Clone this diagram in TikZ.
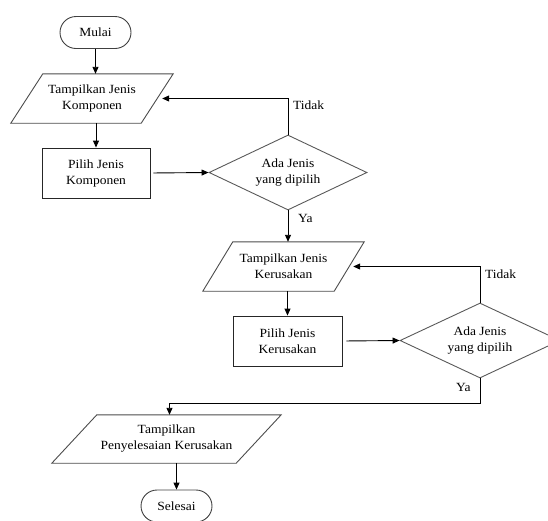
\documentclass[tikz,border=0pt]{standalone}
\usepackage{fontspec}
\setmainfont[FakeStretch=1.08]{Liberation Serif}
\usetikzlibrary{shapes.geometric,shapes.misc,arrows.meta,calc}
\begin{document}
\begin{tikzpicture}[x=1pt,y=-1pt,
  every node/.style={font=\fontsize{12.5}{16}\selectfont, text=black},
  term/.style={rounded rectangle, draw=black!75, line width=0.9pt, minimum width=71pt, minimum height=32pt, inner sep=0pt},
  io/.style={rectangle, inner sep=0pt, align=center},
  procbox/.style={rectangle, draw=black!85, line width=0.9pt, align=center, inner sep=0pt},
  decision/.style={diamond, draw=black!65, line width=0.9pt, aspect=2.1, inner sep=0pt, align=center},
  conn/.style={line width=0.9pt, -{Triangle[length=7pt,width=6pt]}},
  plain/.style={line width=0.9pt},
  lbl/.style={anchor=west, inner sep=0pt}
]
\useasboundingbox (0,0) rectangle (548,520);

% nodes
\node[term] (mulai) at (95.5,32.5) {Mulai};
\node[io, minimum width=130pt, minimum height=49pt] (p1) at (92,98.5) {Tampilkan Jenis\\Komponen};
\node[procbox, minimum width=108pt, minimum height=50pt] (r1) at (96,173) {Pilih Jenis\\Komponen};
\node[decision, minimum width=158pt, minimum height=75pt] (d1) at (288,172.5) {Ada Jenis\\yang dipilih};
\node[io, minimum width=131pt, minimum height=49pt] (p2) at (283.5,266.5) {Tampilkan Jenis\\Kerusakan};
\node[procbox, minimum width=109pt, minimum height=50pt] (r2) at (287.5,341) {Pilih Jenis\\Kerusakan};
\node[decision, minimum width=160pt, minimum height=75pt] (d2) at (480,340.5) {Ada Jenis\\yang dipilih};
\node[io, minimum width=184pt, minimum height=48pt] (p3) at (166.5,439) {Tampilkan\\Penyelesaian Kerusakan};
\node[term] (selesai) at (176.5,506) {Selesai};

% parallelogram outlines
\draw[draw=black!70, line width=0.9pt] ([xshift=16pt]p1.north west) -- ([xshift=16pt]p1.north east) -- ([xshift=-16pt]p1.south east) -- ([xshift=-16pt]p1.south west) -- cycle;
\draw[draw=black!70, line width=0.9pt] ([xshift=15pt]p2.north west) -- ([xshift=15pt]p2.north east) -- ([xshift=-15pt]p2.south east) -- ([xshift=-15pt]p2.south west) -- cycle;
\draw[draw=black!70, line width=0.9pt] ([xshift=22.5pt]p3.north west) -- ([xshift=22.5pt]p3.north east) -- ([xshift=-22.5pt]p3.south east) -- ([xshift=-22.5pt]p3.south west) -- cycle;

% connectors
\draw[conn] (mulai.south) -- (mulai.south |- p1.north);
\draw[conn] (r1.north |- p1.south) -- (r1.north);
\draw[conn, shorten <=3pt] (r1.east) -- (d1.west);
\draw[conn, shorten >=5pt] (d1.north) |- (p1.east);
\draw[conn] (d1.south) -- (d1.south |- p2.north);
\draw[conn] (r2.north |- p2.south) -- (r2.north);
\draw[conn, shorten <=4pt] (r2.east) -- (d2.west);
\draw[conn, shorten >=4pt] (d2.north) |- (p2.east);
\coordinate (yabend) at ($(d2.south)+(0,25)$);
\draw[conn] (d2.south) -- (yabend) -| ([xshift=3pt]p3.north);
\draw[conn] (selesai.north |- p3.south) -- (selesai.north);

% labels
\node[lbl] (t1) at (293,105) {Tidak};
\node[lbl] (y1) at (298,218) {Ya};
\node[lbl] (t2) at (485,274) {Tidak};
\node[lbl] (y2) at (456,387) {Ya};
\end{tikzpicture}
\end{document}
